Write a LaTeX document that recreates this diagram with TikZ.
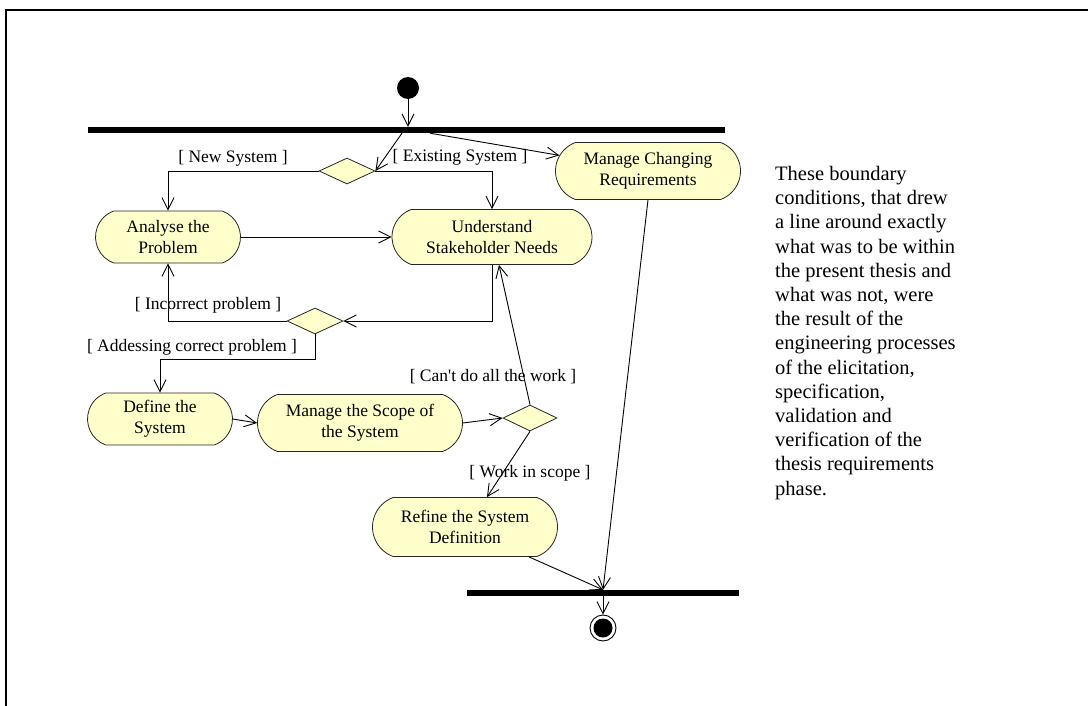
\documentclass[tikz,border=0pt]{standalone}
\usepackage{fontspec}
\setmainfont{Liberation Serif}
\usetikzlibrary{arrows.meta,shapes.misc,shapes.geometric}
\definecolor{actfill}{RGB}{255,255,204}
\begin{document}
\begin{tikzpicture}[x=1pt,y=-1pt,
  every node/.style={font=\fontsize{17.5}{21}\selectfont},
  act/.style={draw=black!85, fill=actfill, line width=0.8pt, rounded rectangle,
    rounded rectangle arc length=140, inner sep=0pt, align=center},
  dec/.style={draw=black!85, fill=actfill, line width=0.8pt, diamond, inner sep=0pt,
    minimum width=56pt, minimum height=26pt},
  bar/.style={fill=black, inner sep=0pt, minimum height=6pt},
  flow/.style={line width=0.9pt, -{Straight Barb[length=12pt,width=12pt,line width=0.9pt]}},
  guard/.style={inner sep=0pt}
]
\useasboundingbox (0,0) rectangle (1088,706);
% frame
\draw[line width=2pt] (6,706) -- (6,10) -- (1088,10);

% initial node and fork bar
\node[circle, fill=black, minimum size=22pt, inner sep=0pt] (start) at (408,88) {};
\node[bar, minimum width=637pt] (bar1) at (406.5,130) {};

% activities
\node[act, minimum width=145pt, minimum height=52pt] (ana) at (168,237) {Analyse the\\Problem};
\node[act, minimum width=200pt, minimum height=55pt] (und) at (492,237) {Understand\\Stakeholder Needs};
\node[act, minimum width=185pt, minimum height=57pt] (mcr) at (648,171) {Manage Changing\\Requirements};
\node[act, minimum width=145pt, minimum height=52pt] (def) at (160,419) {Define the\\System};
\node[act, minimum width=205pt, minimum height=57pt] (msc) at (360,423) {Manage the Scope of\\the System};
\node[act, minimum width=185pt, minimum height=59pt] (ref) at (465,527) {Refine the System\\Definition};

% decisions
\node[dec] (d1) at (347,171) {};
\node[dec] (d2) at (315,321) {};
\node[dec, minimum width=54pt] (d3) at (530,418) {};

% join bar and final node
\node[bar, minimum width=272pt] (bar2) at (603,593) {};
\node[circle, draw, line width=0.9pt, minimum size=26pt, inner sep=0pt] (end) at (603,628) {};
\node[circle, fill=black, minimum size=19pt, inner sep=0pt] (endin) at (end) {};

% attachment points
\coordinate (b1a) at (bar1.south -| 402,0);
\coordinate (b1b) at (bar1.south -| 430,0);
\coordinate (s1) at (start.south |- bar1.north);
\coordinate (d2low) at (315,359);
\coordinate (undin) at (und.south -| 499,0);
\coordinate (refin) at (ref.north -| 487,0);
\coordinate (refout) at (ref.south -| 529,0);
\coordinate (b2in) at (bar2.north);
\coordinate (b2out) at (bar2.south);

% flows
\draw[flow] (start) -- (s1);
\draw[flow] (b1a) -- (d1.east);
\draw[flow] (b1b) -- (mcr.170);
\draw[flow] (d1.west) -| (ana.north);
\draw[flow] (d1.east) -| (und.north);
\draw[flow] (ana.east) -- (ana.east -| und.west);
\draw[flow] (und.south) |- (d2.east);
\draw[flow] (d2.west) -| (ana.south);
\draw[flow] (d2.south) -- (d2low) -| (def.north);
\draw[flow] (def.east) -- (msc.west);
\draw[flow] (msc.east) -- (d3.west);
\draw[flow] (d3.north) -- (undin);
\draw[flow] (d3.south) -- (refin);
\draw[flow] (mcr.south) -- (b2in);
\draw[flow] (refout) -- (b2in);
\draw[flow] (b2out) -- (end.north);

% guards
\node[guard] (gNew) at (233,158) {[ New System ]};
\node[guard] (gExist) at (460,157) {[ Existing System ]};
\node[guard] (gInc) at (208,305) {[ Incorrect problem ]};
\node[guard] (gCor) at (192,347) {[ Addessing correct problem ]};
\node[guard] (gCant) at (493,377) {[ Can\textquotesingle t do all the work ]};
\node[guard] (gWork) at (530,473) {[ Work in scope ]};

% note
\node[anchor=north west, align=left, inner sep=0pt, font=\fontsize{20.5}{24.2}\selectfont] (note) at (775,166)
  {These boundary\\conditions, that drew\\a line around exactly\\what was to be within\\the present thesis and\\what was not, were\\the result of the\\engineering processes\\of the elicitation,\\specification,\\validation and\\verification of the\\thesis requirements\\phase.};
\end{tikzpicture}
\end{document}
